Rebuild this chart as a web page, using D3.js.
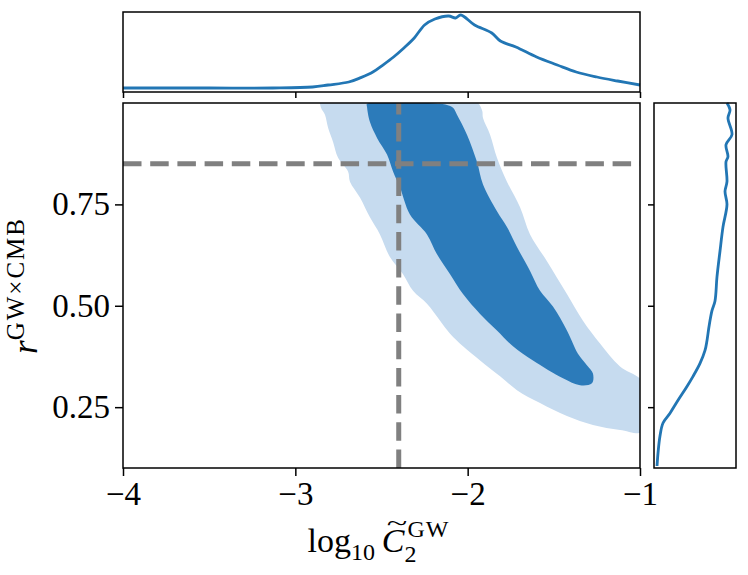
<!DOCTYPE html>
<html>
<head>
<meta charset="utf-8">
<script src="https://cdn.jsdelivr.net/npm/d3@7"></script>
<style>
  body { margin: 0; background: white; }
  svg text { font-family: "Liberation Serif", "DejaVu Serif", serif; fill: black; }
</style>
</head>
<body>
<div id="canvas"></div>
<script>
"use strict"

let svgWidth = 748
let svgHeight = 575

/* panel boxes (px) */
let mainLeft = 123, mainRight = 640, mainTop = 103, mainBottom = 468
let topTop = 12, topBottom = 92
let sideLeft = 654, sideRight = 736

/* data */
let xTicks = [-4, -3, -2, -1]
let yTicks = [0.25, 0.50, 0.75]
let truthX = -2.4
let truthY = 0.85

/* 95% region outline [log10 C2, r] */
let lightContour = [
  [-2.851, 1.01], [-2.851, 0.988], [-2.828, 0.971], [-2.810, 0.939], [-2.781, 0.904],
  [-2.752, 0.865], [-2.694, 0.831], [-2.683, 0.806], [-2.625, 0.767], [-2.567, 0.718],
  [-2.509, 0.676], [-2.451, 0.620], [-2.375, 0.578], [-2.317, 0.537], [-2.236, 0.505],
  [-2.160, 0.463], [-2.102, 0.431], [-2.027, 0.400], [-1.928, 0.365], [-1.812, 0.326],
  [-1.714, 0.292], [-1.580, 0.260], [-1.424, 0.228], [-1.273, 0.206], [-1.116, 0.194],
  [-0.98, 0.190], [-0.98, 0.310], [-1.116, 0.350], [-1.232, 0.407], [-1.331, 0.463],
  [-1.424, 0.529], [-1.540, 0.610], [-1.638, 0.676], [-1.696, 0.743], [-1.772, 0.806],
  [-1.830, 0.865], [-1.870, 0.922], [-1.911, 0.963], [-1.917, 0.983], [-1.969, 1.01]
]

/* 68% region outline */
let darkContour = [
  [-2.584, 0.998], [-2.584, 0.990], [-2.567, 0.953], [-2.526, 0.914], [-2.468, 0.873],
  [-2.433, 0.831], [-2.393, 0.792], [-2.335, 0.725], [-2.236, 0.676], [-2.178, 0.627],
  [-2.102, 0.578], [-2.027, 0.529], [-1.928, 0.480], [-1.830, 0.439], [-1.737, 0.400],
  [-1.621, 0.365], [-1.447, 0.321], [-1.348, 0.304], [-1.279, 0.309], [-1.273, 0.333],
  [-1.307, 0.353], [-1.360, 0.382], [-1.424, 0.439], [-1.505, 0.498], [-1.580, 0.537],
  [-1.638, 0.586], [-1.714, 0.645], [-1.772, 0.694], [-1.830, 0.733], [-1.911, 0.799],
  [-1.946, 0.855], [-2.004, 0.922], [-2.062, 0.971], [-2.085, 0.988], [-2.120, 0.995],
  [-2.160, 0.998]
]

/* marginal of log10 C2 */
let margX = [-4.0, -3.5, -3.13, -2.90, -2.81, -2.69, -2.62, -2.55, -2.49, -2.43, -2.37,
  -2.31, -2.25, -2.19, -2.11, -2.07, -2.04, -1.96, -1.86, -1.81, -1.72, -1.60, -1.48,
  -1.37, -1.25, -1.13, -1.0]
let margXDensity = [0.05, 0.05, 0.05, 0.0625, 0.0875, 0.125, 0.18, 0.25, 0.34, 0.4375, 0.55,
  0.675, 0.8375, 0.9125, 0.95, 0.925, 0.9625, 0.8375, 0.7375, 0.6375, 0.5625, 0.4375, 0.3375,
  0.25, 0.1875, 0.1375, 0.0875]

/* marginal of r */
let margR = [1.0, 0.983, 0.963, 0.922, 0.897, 0.868, 0.855, 0.806, 0.782, 0.75, 0.694,
  0.635, 0.571, 0.512, 0.488, 0.449, 0.414, 0.39, 0.358, 0.326, 0.301, 0.267, 0.235,
  0.211, 0.179, 0.137, 0.105]
let margRDensity = [0.89, 0.927, 0.902, 0.951, 0.878, 0.902, 0.878, 0.89, 0.866, 0.89, 0.841,
  0.805, 0.768, 0.744, 0.707, 0.671, 0.646, 0.622, 0.561, 0.476, 0.402, 0.293, 0.195,
  0.110, 0.073, 0.049, 0.037]

let lightBlue = "#c6dbef"
let darkBlue = "#2c7bba"
let lineBlue = "#2276b4"

let svg = d3.select("#canvas")
  .append("svg")
  .attr("width", svgWidth)
  .attr("height", svgHeight)

/* scales */
let xScale = d3.scaleLinear().domain([-4, -1]).range([mainLeft, mainRight])
let yScale = d3.scaleLinear().domain([0.1, 1.0]).range([mainBottom, mainTop])
let topY = d3.scaleLinear().domain([0, 1]).range([topBottom, topTop])
let sideX = d3.scaleLinear().domain([0, 1]).range([sideLeft, sideRight])

/* clip for main panel */
svg.append("clipPath").attr("id", "mainClip")
  .append("rect")
  .attr("x", mainLeft).attr("y", mainTop)
  .attr("width", mainRight - mainLeft).attr("height", mainBottom - mainTop)

let contourLine = d3.line()
  .x(d => xScale(d[0]))
  .y(d => yScale(d[1]))
  .curve(d3.curveCatmullRomClosed.alpha(0.5))

let main = svg.append("g").attr("clip-path", "url(#mainClip)")

main.append("path")
  .attr("d", contourLine(lightContour))
  .attr("fill", lightBlue)

main.append("path")
  .attr("d", contourLine(darkContour))
  .attr("fill", darkBlue)

/* truth lines */
main.append("line")
  .attr("x1", mainLeft).attr("x2", mainRight)
  .attr("y1", yScale(truthY)).attr("y2", yScale(truthY))
  .attr("stroke", "#808080").attr("stroke-width", 5)
  .attr("stroke-dasharray", "18.5,8.7")

main.append("line")
  .attr("x1", xScale(truthX)).attr("x2", xScale(truthX))
  .attr("y1", mainBottom).attr("y2", mainTop)
  .attr("stroke", "#808080").attr("stroke-width", 5)
  .attr("stroke-dasharray", "18.5,8.7")

/* main axes frame + ticks */
svg.append("rect")
  .attr("x", mainLeft).attr("y", mainTop)
  .attr("width", mainRight - mainLeft).attr("height", mainBottom - mainTop)
  .attr("fill", "none").attr("stroke", "black").attr("stroke-width", 1.5)

let xAxis = svg.append("g")
  .attr("transform", "translate(0," + mainBottom + ")")
  .call(d3.axisBottom(xScale).tickValues(xTicks).tickSize(8).tickPadding(6)
    .tickFormat(d => "\u2212" + Math.abs(d)))
xAxis.select(".domain").remove()
xAxis.selectAll("line").attr("stroke-width", 1.5)
xAxis.selectAll("text").attr("font-size", 33).attr("font-family", "Liberation Serif")

let yAxis = svg.append("g")
  .attr("transform", "translate(" + mainLeft + ",0)")
  .call(d3.axisLeft(yScale).tickValues(yTicks).tickSize(8).tickPadding(5)
    .tickFormat(d3.format(".2f")))
yAxis.select(".domain").remove()
yAxis.selectAll("line").attr("stroke-width", 1.5)
yAxis.selectAll("text").attr("font-size", 33).attr("font-family", "Liberation Serif")

/* top marginal */
svg.append("path")
  .datum(d3.zip(margX, margXDensity))
  .attr("d", d3.line().x(d => xScale(d[0])).y(d => topY(d[1])).curve(d3.curveCatmullRom))
  .attr("fill", "none").attr("stroke", lineBlue).attr("stroke-width", 2.8)

svg.append("rect")
  .attr("x", mainLeft).attr("y", topTop)
  .attr("width", mainRight - mainLeft).attr("height", topBottom - topTop)
  .attr("fill", "none").attr("stroke", "black").attr("stroke-width", 1.5)

let topAxis = svg.append("g")
  .attr("transform", "translate(0," + topBottom + ")")
  .call(d3.axisBottom(xScale).tickValues(xTicks).tickSize(6).tickFormat(""))
topAxis.select(".domain").remove()
topAxis.selectAll("line").attr("stroke-width", 1.5)

/* side marginal */
svg.append("path")
  .datum(d3.zip(margRDensity, margR))
  .attr("d", d3.line().x(d => sideX(d[0])).y(d => yScale(d[1])).curve(d3.curveCatmullRom))
  .attr("fill", "none").attr("stroke", lineBlue).attr("stroke-width", 2.8)

svg.append("rect")
  .attr("x", sideLeft).attr("y", mainTop)
  .attr("width", sideRight - sideLeft).attr("height", mainBottom - mainTop)
  .attr("fill", "none").attr("stroke", "black").attr("stroke-width", 1.5)

let sideAxis = svg.append("g")
  .attr("transform", "translate(" + sideLeft + ",0)")
  .call(d3.axisLeft(yScale).tickValues(yTicks).tickSize(6).tickFormat(""))
sideAxis.select(".domain").remove()
sideAxis.selectAll("line").attr("stroke-width", 1.5)

/* x label */
let xLabel = svg.append("text")
  .attr("x", (mainLeft + mainRight) / 2 - 3)
  .attr("y", 552)
  .attr("text-anchor", "middle")
  .attr("font-size", 34)
xLabel.append("tspan").text("log")
xLabel.append("tspan").attr("font-size", 24).attr("dy", 8).text("10")
xLabel.append("tspan").attr("dy", -8).text("\u2009")
xLabel.append("tspan").attr("font-style", "italic").text("C")
xLabel.append("tspan").attr("font-size", 24).attr("dy", 10).text("2")
xLabel.append("tspan").attr("font-size", 24).attr("dx", -9).attr("dy", -25)
  .attr("letter-spacing", 1).text("GW")

/* wide tilde over C */
let cBox = xLabel.node().getExtentOfChar(6)
svg.append("text")
  .attr("transform", "translate(" + (cBox.x + cBox.width / 2 + 4) + "," + (cBox.y + 8) + ") scale(1.9,1)")
  .attr("text-anchor", "middle")
  .attr("font-size", 20)
  .text("~")

/* y label */
let yLabel = svg.append("text")
  .attr("transform", "translate(37," + ((mainTop + mainBottom) / 2) + ") rotate(-90)")
  .attr("text-anchor", "middle")
  .attr("font-size", 35)
yLabel.append("tspan").attr("font-style", "italic").text("r")
yLabel.append("tspan").attr("font-size", 25).attr("dy", -13)
  .attr("letter-spacing", 2).text("GW\u00d7CMB")
</script>
</body>
</html>
